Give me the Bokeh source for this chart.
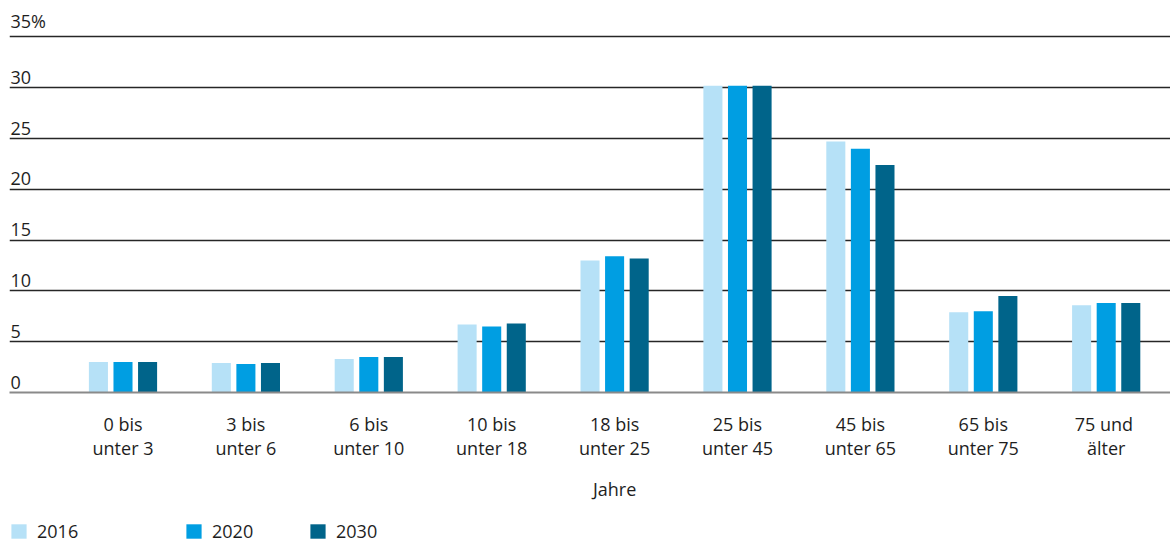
from bokeh.plotting import figure
from bokeh.layouts import column
from bokeh.models import (ColumnDataSource, FixedTicker, Legend, LegendItem, Range1d)
from bokeh.transform import dodge
from bokeh.core.properties import value
from bokeh.embed import file_html
from bokeh.resources import INLINE

# ---- data ----
categories = ["0 bis\nunter 3", "3 bis\nunter 6", "6 bis\nunter 10", "10 bis\nunter 18",
              "18 bis\nunter 25", "25 bis\nunter 45", "45 bis\nunter 65", "65 bis\nunter 75",
              "75  und\nälter"]
v2016 = [3.0, 2.9, 3.3, 6.7, 13.0, 30.2, 24.7, 7.9, 8.6]
v2020 = [3.0, 2.8, 3.5, 6.5, 13.4, 30.2, 24.0, 8.0, 8.8]
v2030 = [3.0, 2.9, 3.5, 6.8, 13.2, 30.2, 22.4, 9.5, 8.8]
series_names = ["2016", "2020", "2030"]
y_ticks = [0, 5, 10, 15, 20, 25, 30, 35]
y_tick_labels = ["0", "5", "10", "15", "20", "25", "30", "35%"]
x_title = "Jahre"

colors = ["#b6e1f7", "#009ee2", "#00648a"]
FONT = "Open Sans"
TXT = "#1e1e1e"

xs = list(range(len(categories)))
source = ColumnDataSource(dict(x=xs, v2016=v2016, v2020=v2020, v2030=v2030))

x_range = Range1d(-0.9235, 8.5232)

p = figure(width=1170, height=470, output_backend="svg", toolbar_location=None,
           x_range=x_range, y_range=Range1d(0, 37.8),
           min_border_left=9, min_border_right=0, min_border_top=8, min_border_bottom=78)
p.outline_line_color = None
p.background_fill_color = "white"
p.border_fill_color = "white"

renderers = []
for col, off, c in zip(["v2016", "v2020", "v2030"], [-0.2, 0.0, 0.2], colors):
    r = p.vbar(x=dodge("x", off, range=p.x_range), top=col, width=0.155, bottom=0,
               source=source, fill_color=c, line_color=None)
    renderers.append(r)

# axes / grid
p.yaxis.visible = False
p.xgrid.visible = False
p.ygrid.ticker = FixedTicker(ticks=y_ticks[1:])
p.ygrid.grid_line_color = "#262626"
p.ygrid.grid_line_width = 1.3

xa = p.xaxis[0]
xa.ticker = FixedTicker(ticks=xs)
xa.major_label_overrides = {i: lab for i, lab in enumerate(categories)}
xa.major_label_text_font = FONT
xa.major_label_text_font_size = "18px"
xa.major_label_text_color = TXT
xa.major_label_text_line_height = 1.0
xa.major_label_standoff = 13
xa.major_tick_line_color = None
xa.minor_tick_line_color = None
xa.axis_line_color = "#8a8a8a"
xa.axis_line_width = 2

# y tick labels above gridlines
lab_src = ColumnDataSource(dict(x=[x_range.start] * len(y_ticks), y=y_ticks, t=y_tick_labels))
p.text(x="x", y="y", text="t", source=lab_src, x_offset=1, y_offset=-4,
       text_font=value(FONT), text_font_size="18px", text_color=TXT,
       text_align="left", text_baseline="bottom")

# ---- lower strip: axis title and legend ----
p2 = figure(width=1170, height=74, output_backend="svg", toolbar_location=None,
            x_range=x_range, y_range=Range1d(0, 74),
            min_border_left=9, min_border_right=0, min_border_top=0, min_border_bottom=0)
p2.outline_line_color = None
p2.axis.visible = False
p2.grid.visible = False

p2.text(x=[4], y=[56], text=[x_title], text_font=value(FONT), text_font_size="18px",
        text_color=TXT, text_align="center", text_baseline="middle")

# legend swatches (one zero-height bar each, placed outside the visible range)
dummies = [p2.vbar(x=[-10], top=[0], width=0.155, fill_color=c, line_color=None)
           for c in colors]

common = dict(orientation="horizontal", glyph_width=19, glyph_height=18, label_standoff=9,
              label_text_font=FONT, label_text_font_size="18px", label_text_color=TXT,
              padding=0, margin=0, border_line_color=None, background_fill_alpha=0,
              label_height=18)
legA = Legend(items=[LegendItem(label=series_names[0], renderers=[dummies[0]])],
              location=(0, 1), **common)
legB = Legend(items=[LegendItem(label=series_names[1], renderers=[dummies[1]]),
                     LegendItem(label=series_names[2], renderers=[dummies[2]])],
              location=(175, 1), spacing=0, label_width=96, **common)
p2.add_layout(legA, "center")
p2.add_layout(legB, "center")

layout = column(p, p2, spacing=0)
open("out.html", "w").write(file_html(layout, INLINE))
